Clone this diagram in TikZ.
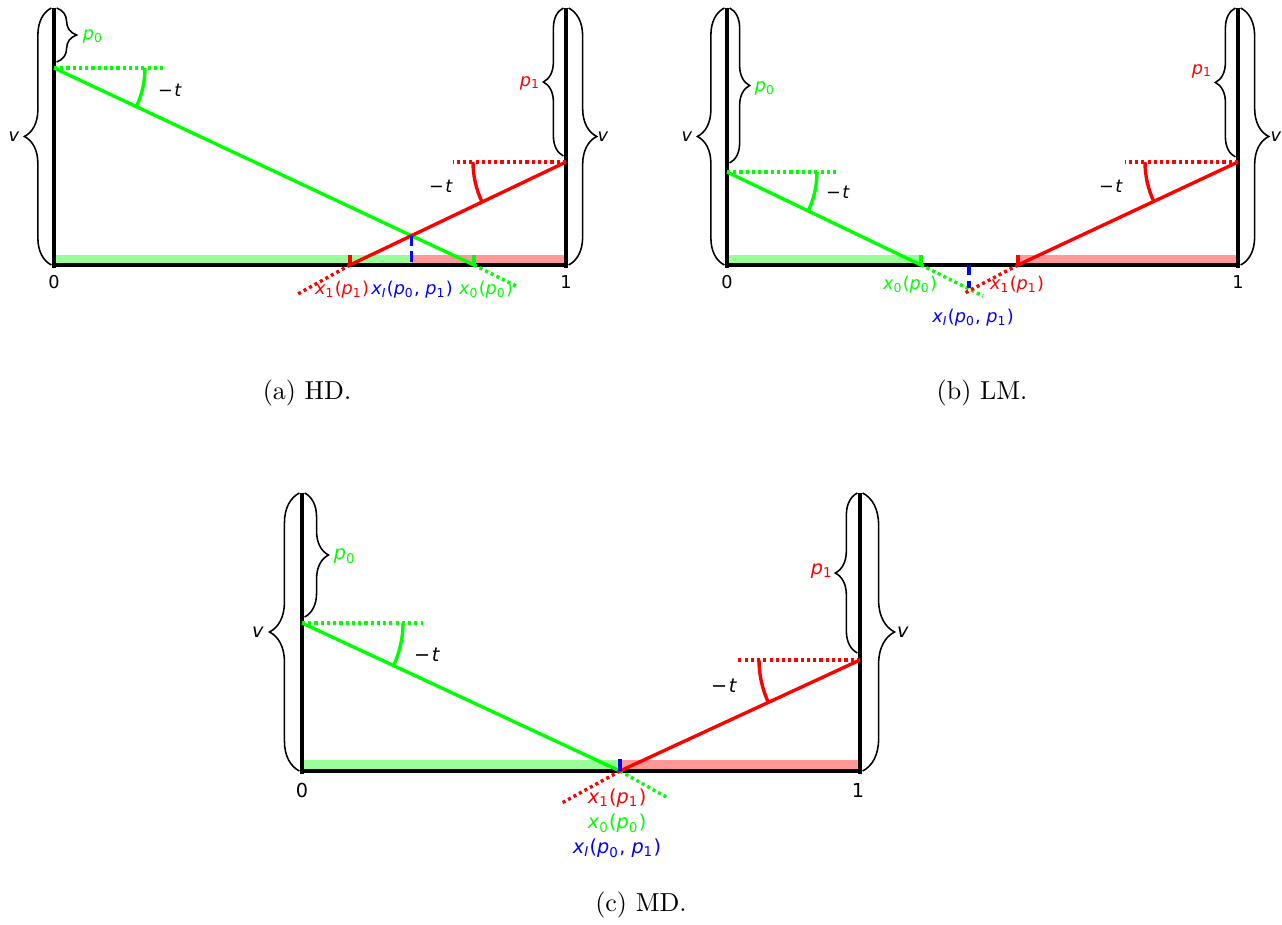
\documentclass[tikz,border=0pt]{standalone}
\usepackage{fontspec}
\newfontfamily\lblfont{DejaVu Sans}
\usetikzlibrary{calc, decorations.pathreplacing, positioning}

\newcommand{\iv}[1]{\textit{#1}}
\newcommand{\lsub}[1]{\textsubscript{#1}}
\newcommand{\xone}{\iv{x}\lsub{1}(\iv{p}\lsub{1})}
\newcommand{\xzero}{\iv{x}\lsub{0}(\iv{p}\lsub{0})}
\newcommand{\xint}{\iv{x}\lsub{\iv{I}}(\iv{p}\lsub{0}, \iv{p}\lsub{1})}
\newcommand{\mint}{−\kern0.6pt\iv{t}}

\begin{document}
\begin{tikzpicture}[
    x=0.3846pt, y=0.3846pt,
    axis/.style={draw=black, line width=1.3pt},
    curly/.style={draw=black, line width=0.6pt, decorate, decoration={brace, amplitude=#1, raise=1pt}},
    gline/.style={draw=green, line width=1.3pt},
    rline/.style={draw=red, line width=1.3pt},
    gdot/.style={gline, dash pattern=on 1.2pt off 1.2pt},
    rdot/.style={rline, dash pattern=on 1.2pt off 1.2pt},
    bdash/.style={draw=blue, line width=1.3pt, dash pattern=on 4pt off 2pt},
    gbar/.style={fill=green!40},
    rbar/.style={fill=red!40},
    lbl/.style={inner sep=0pt, font={\lblfont\fontsize{6.8}{8}\selectfont}},
    lblc/.style={inner sep=0pt, font={\lblfont\fontsize{7.4}{9}\selectfont}},
    caption/.style={inner sep=0pt, font={\fontsize{10}{12}\selectfont}}
]
    \useasboundingbox (0,0) rectangle (1282,924);

    % (a) HD
    \begin{scope}[shift={(54,659)}]
        \coordinate (a0) at (0,0);
        \coordinate (a1) at (512,0);
        \coordinate (atl) at (0,257);
        \coordinate (atr) at (512,257);
        \coordinate (ag) at (0,197);
        \coordinate (ar) at (512,103);
        \coordinate (ax0) at (420,0);
        \coordinate (ax1) at (296,0);
        \coordinate (axi) at (intersection of ag--ax0 and ar--ax1);
        \coordinate (axib) at (axi |- a0);
        \fill[gbar] (a0) rectangle ($(axib)+(0,10)$);
        \fill[rbar] (axib) rectangle ($(a1)+(0,10)$);
        \draw[axis] (atl) -- ++(0,-260);
        \draw[axis] (a0) -- (a1);
        \draw[axis] (atr) -- ++(0,-260);
        \draw[curly=10.4pt] (a0) -- (atl);
        \draw[curly=7.7pt] (atl) -- ($(ag)+(0,6)$);
        \draw[curly=7.7pt] ($(ar)+(0,6)$) -- (atr);
        \draw[curly=10.8pt] (atr) -- (a1);
        \draw[gdot] (ag) -- ++(111,0);
        \draw[gline] (ag) -- (ax0);
        \draw[gdot] (ax0) -- (464,-22);
        \draw[gline] ($(ag)+(91,0)$) arc[start angle=0, end angle=-25.1, radius=91];
        \draw[rdot] (ar) -- ++(-113,0);
        \draw[rline] (ar) -- (ax1);
        \draw[rdot] (ax1) -- (242,-30);
        \draw[rline] ($(ar)+(-93,0)$) arc[start angle=180, end angle=205.5, radius=93];
        \draw[gline] (ax0) -- ++(0,10);
        \draw[rline] (ax1) -- ++(0,10);
        \draw[bdash] (axi) -- (axib);
        \node[lbl] (azero) at (0,-17) {0};
        \node[lbl] (aone) at (512,-17) {1};
        \node[lbl] (avl) at (-40,128) {\iv{v}};
        \node[lbl] (avr) at (549,128) {\iv{v}};
        \node[lbl, text=green] (ap0) at (39,229) {\iv{p}\lsub{0}};
        \node[lbl, text=red] (ap1) at (476,182) {\iv{p}\lsub{1}};
        \node[lbl] (atg) at (116,175) {\mint};
        \node[lbl] (atr2) at (387,79) {\mint};
        \node[lbl, text=red] (ax1l) at (288,-25) {\xone};
        \node[lbl, text=blue] (axil) at (358,-25) {\xint};
        \node[lbl, text=green] (ax0l) at (432,-25) {\xzero};
    \end{scope}
    \node[caption] (capa) at (307,531) {(a) HD.};

    % (b) LM
    \begin{scope}[shift={(727,659)}]
        \coordinate (b0) at (0,0);
        \coordinate (b1) at (511,0);
        \coordinate (btl) at (0,257);
        \coordinate (btr) at (511,257);
        \coordinate (bg) at (0,93);
        \coordinate (br) at (511,103);
        \coordinate (bx0) at (194,0);
        \coordinate (bx1) at (291,0);
        \coordinate (bxi) at (intersection of bg--bx0 and br--bx1);
        \coordinate (bxib) at (bxi |- b0);
        \fill[gbar] (b0) rectangle ($(bx0)+(0,10)$);
        \fill[rbar] (bx1) rectangle ($(b1)+(0,10)$);
        \draw[axis] (btl) -- ++(0,-260);
        \draw[axis] (b0) -- (b1);
        \draw[axis] (btr) -- ++(0,-260);
        \draw[curly=10.4pt] (b0) -- (btl);
        \draw[curly=7.7pt] (btl) -- ($(bg)+(0,9)$);
        \draw[curly=7.7pt] ($(br)+(0,5)$) -- (btr);
        \draw[curly=10.8pt] (btr) -- (b1);
        \draw[gdot] (bg) -- ++(110,0);
        \draw[gline] (bg) -- (bx0);
        \draw[gdot] (bx0) -- (256,-31);
        \draw[gline] ($(bg)+(90,0)$) arc[start angle=0, end angle=-25.6, radius=90];
        \draw[rdot] (br) -- ++(-113,0);
        \draw[rline] (br) -- (bx1);
        \draw[rdot] (bx1) -- (236,-29);
        \draw[rline] ($(br)+(-93,0)$) arc[start angle=180, end angle=205.1, radius=93];
        \draw[gline] (bx0) -- ++(0,10);
        \draw[rline] (bx1) -- ++(0,10);
        \draw[bdash] (bxib) -- (bxi);
        \node[lbl] (bzero) at (0,-17) {0};
        \node[lbl] (bone) at (511,-17) {1};
        \node[lbl] (bvl) at (-40,128) {\iv{v}};
        \node[lbl] (bvr) at (549,128) {\iv{v}};
        \node[lbl, text=green] (bp0) at (38,177) {\iv{p}\lsub{0}};
        \node[lbl, text=red] (bp1) at (475,194) {\iv{p}\lsub{1}};
        \node[lbl] (btg) at (111,73) {\mint};
        \node[lbl] (btr2) at (384,79) {\mint};
        \node[lbl, text=green] (bx0l) at (183,-20) {\xzero};
        \node[lbl, text=red] (bx1l) at (290,-20) {\xone};
        \node[lbl, text=blue] (bxil) at (246,-53) {\xint};
    \end{scope}
    \node[caption] (capb) at (982,531) {(b) LM.};

    % (c) MD
    \begin{scope}[shift={(302,153)}]
        \coordinate (c0) at (0,0);
        \coordinate (c1) at (558,0);
        \coordinate (ctl) at (0,278);
        \coordinate (ctr) at (558,278);
        \coordinate (cg) at (0,148);
        \coordinate (cr) at (558,111);
        \coordinate (cxi) at (318,0);
        \fill[gbar] (c0) rectangle ($(cxi)+(0,11)$);
        \fill[rbar] (cxi) rectangle ($(c1)+(0,11)$);
        \draw[axis] (ctl) -- ++(0,-281);
        \draw[axis] (c0) -- (c1);
        \draw[axis] (ctr) -- ++(0,-281);
        \draw[curly=11.5pt] (c0) -- (ctl);
        \draw[curly=9.2pt] (ctl) -- ($(cg)+(0,6)$);
        \draw[curly=8.5pt] ($(cr)+(0,7)$) -- (ctr);
        \draw[curly=12.3pt] (ctr) -- (c1);
        \draw[gdot] (cg) -- ++(121,0);
        \draw[gline] (cg) -- (cxi);
        \draw[gdot] (cxi) -- (366,-27);
        \draw[gline] ($(cg)+(101,0)$) arc[start angle=0, end angle=-25, radius=101];
        \draw[rdot] (cr) -- ++(-123,0);
        \draw[rline] (cr) -- (cxi);
        \draw[rdot] (cxi) -- (258,-33);
        \draw[rline] ($(cr)+(-101,0)$) arc[start angle=180, end angle=204.8, radius=101];
        \draw[blue, line width=1.3pt] (cxi) -- ++(0,12);
        \node[lblc] (czero) at (0,-19) {0};
        \node[lblc] (cone) at (556,-19) {1};
        \node[lblc] (cvl) at (-44,139) {\iv{v}};
        \node[lblc] (cvr) at (601,139) {\iv{v}};
        \node[lblc, text=green] (cp0) at (43,215) {\iv{p}\lsub{0}};
        \node[lblc, text=red] (cp1) at (520,200) {\iv{p}\lsub{1}};
        \node[lblc] (ctg) at (125,116) {\mint};
        \node[lblc] (ctr2) at (422,85) {\mint};
        \node[lblc, text=red] (cx1l) at (315,-27) {\xone};
        \node[lblc, text=green] (cx0l) at (315,-52) {\xzero};
        \node[lblc, text=blue] (cxil) at (315,-77) {\xint};
    \end{scope}
    \node[caption] (capc) at (641,19) {(c) MD.};
\end{tikzpicture}
\end{document}
